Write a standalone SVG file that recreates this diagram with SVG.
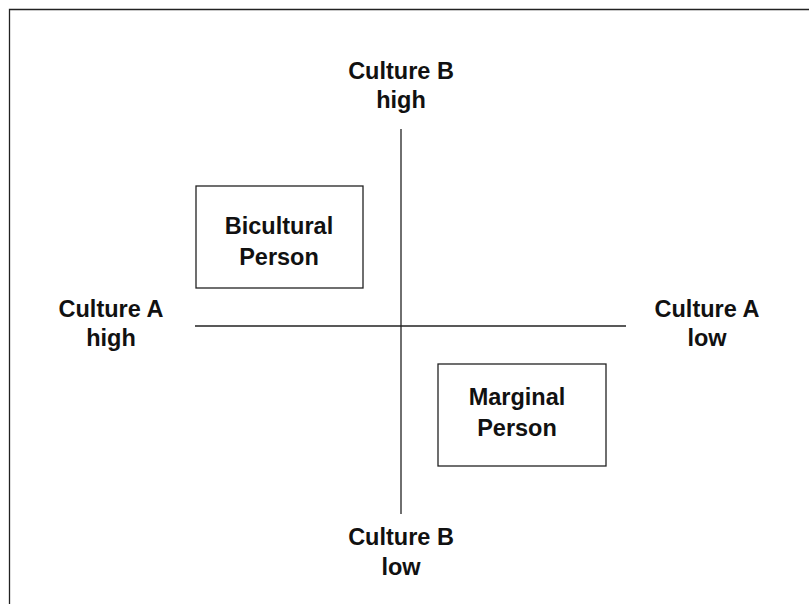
<svg xmlns="http://www.w3.org/2000/svg" width="809" height="604" viewBox="0 0 809 604">
<style>
.t{font-family:"Liberation Sans",Arial,sans-serif;font-weight:bold;font-size:23.5px;fill:#111;text-anchor:middle}
.box{fill:#fff;stroke:#222;stroke-width:1.3}
.ln{stroke:#222;stroke-width:1.3;fill:none}
</style>
<rect width="809" height="604" fill="#fff"/>
<g id="frame">
<path class="ln" d="M9.5 604 V9.5 H809" stroke-width="1.6"/>
</g>
<g id="connectors">
<line class="ln" x1="401" y1="129" x2="401" y2="514"/>
<line class="ln" x1="195" y1="326" x2="626" y2="326"/>
</g>
<g id="cultureB-high">
<text class="t" x="401" y="79">Culture B</text>
<text class="t" x="401" y="108">high</text>
</g>
<g id="cultureB-low">
<text class="t" x="401" y="545">Culture B</text>
<text class="t" x="401" y="575">low</text>
</g>
<g id="cultureA-high">
<text class="t" x="111" y="317">Culture A</text>
<text class="t" x="111" y="346">high</text>
</g>
<g id="cultureA-low">
<text class="t" x="707" y="317">Culture A</text>
<text class="t" x="707" y="346">low</text>
</g>
<g id="bicultural">
<rect class="box" x="196" y="186" width="167" height="102"/>
<text class="t" x="279" y="234">Bicultural</text>
<text class="t" x="279" y="265">Person</text>
</g>
<g id="marginal">
<rect class="box" x="438" y="364" width="168" height="102"/>
<text class="t" x="517" y="405">Marginal</text>
<text class="t" x="517" y="436">Person</text>
</g>
</svg>
